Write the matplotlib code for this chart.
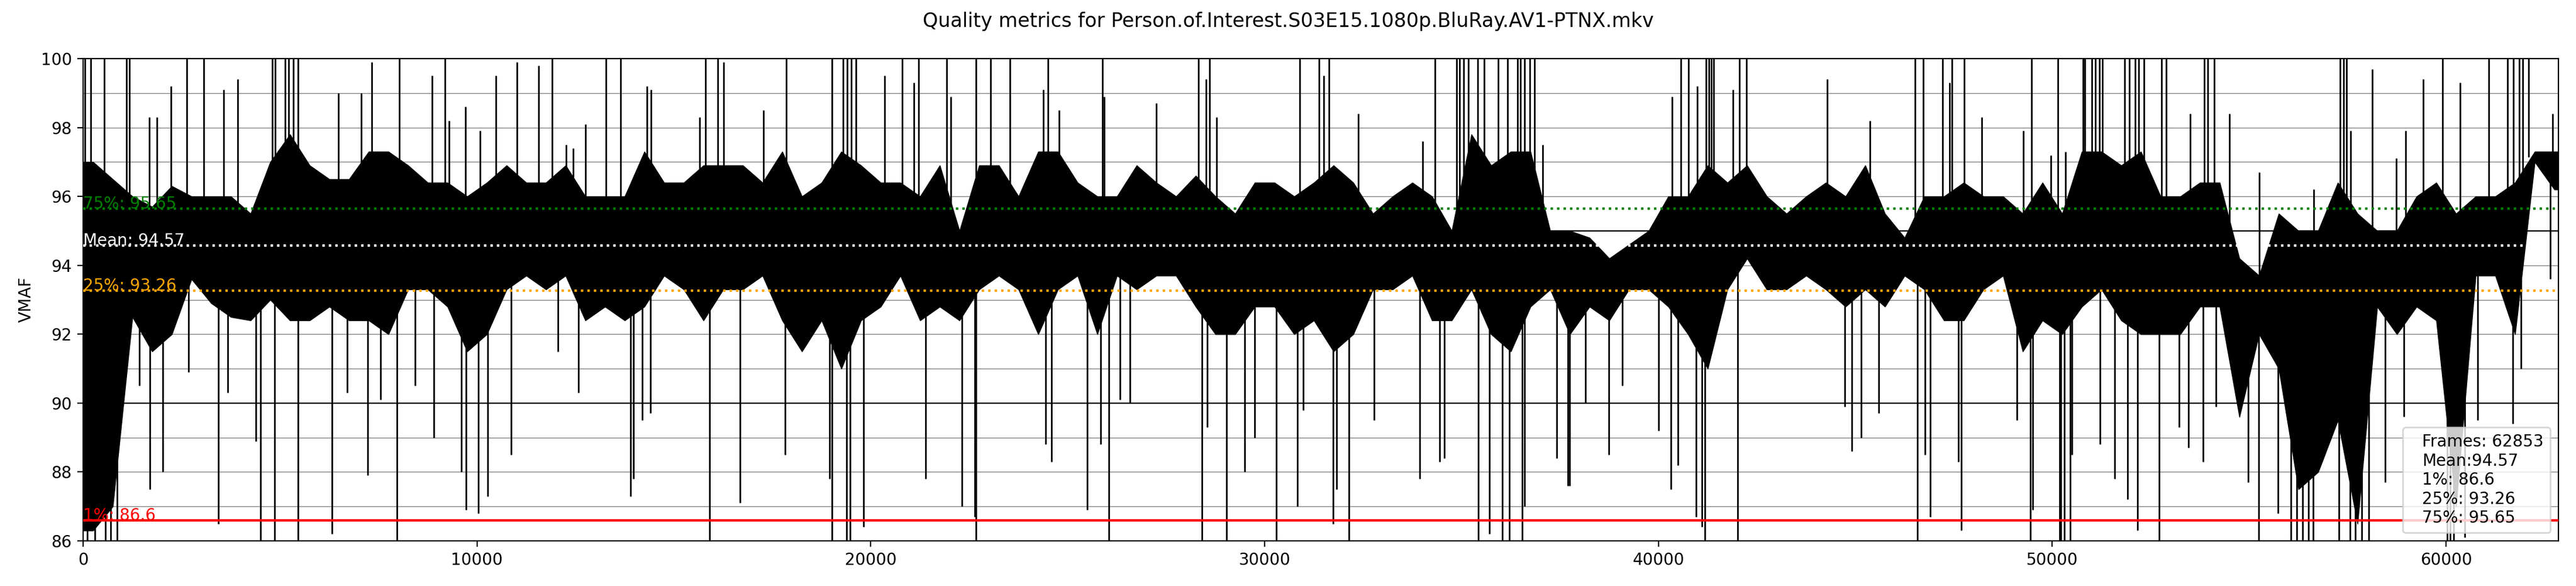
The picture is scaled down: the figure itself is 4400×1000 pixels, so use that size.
import numpy as np
import matplotlib
matplotlib.use("Agg")
import matplotlib.pyplot as plt

# VMAF per-frame values
title = "Quality metrics for Person.of.Interest.S03E15.1080p.BluRay.AV1-PTNX.mkv"
n_frames = 62853
block = 500  # frames per block for the dense core band

# dense core band of the trace, one value per 500-frame block
core_hi = [97.0, 96.5, 96.0, 95.7, 96.3, 96.0, 96.0, 96.0, 95.5, 97.0,
           97.8, 96.9, 96.5, 96.5, 97.3, 97.3, 96.9, 96.4, 96.4, 96.0,
           96.4, 96.9, 96.4, 96.4, 96.9, 96.0, 96.0, 96.0, 97.3, 96.4,
           96.4, 96.9, 96.9, 96.9, 96.4, 97.3, 96.0, 96.4, 97.3, 96.9,
           96.4, 96.4, 96.0, 96.9, 95.0, 96.9, 96.9, 96.0, 97.3, 97.3,
           96.4, 96.0, 96.0, 96.9, 96.4, 96.0, 96.6, 96.0, 95.5, 96.4,
           96.4, 96.0, 96.4, 96.9, 96.4, 95.5, 96.0, 96.4, 96.0, 95.0,
           97.8, 96.9, 97.3, 97.3, 95.0, 95.0, 94.8, 94.2, 94.6, 95.0,
           96.0, 96.0, 96.9, 96.4, 96.9, 96.0, 95.5, 96.0, 96.4, 96.0,
           96.9, 95.5, 94.8, 96.0, 96.0, 96.4, 96.0, 96.0, 95.5, 96.4,
           95.5, 97.3, 97.3, 96.9, 97.3, 96.0, 96.0, 96.4, 96.4, 94.2,
           93.7, 95.5, 95.0, 95.0, 96.4, 95.5, 95.0, 95.0, 96.0, 96.4,
           95.5, 96.0, 96.0, 96.4, 97.3, 97.3]
core_lo = [86.3, 87.0, 92.5, 91.5, 92.0, 93.6, 92.9, 92.5, 92.4, 93.0,
           92.4, 92.4, 92.8, 92.4, 92.4, 92.0, 93.3, 93.3, 92.8, 91.5,
           92.0, 93.3, 93.7, 93.3, 93.7, 92.4, 92.8, 92.4, 92.8, 93.7,
           93.3, 92.4, 93.3, 93.3, 93.7, 92.4, 91.5, 92.4, 91.0, 92.4,
           92.8, 93.7, 92.4, 92.8, 92.4, 93.3, 93.7, 93.3, 92.0, 93.3,
           93.7, 92.0, 93.7, 93.3, 93.7, 93.7, 92.8, 92.0, 92.0, 92.8,
           92.8, 92.0, 92.4, 91.5, 92.0, 93.3, 93.3, 93.7, 92.4, 92.4,
           93.3, 92.0, 91.5, 92.8, 93.3, 92.0, 92.8, 92.4, 93.3, 93.3,
           92.8, 92.0, 91.0, 93.3, 94.2, 93.3, 93.3, 93.7, 93.3, 92.8,
           93.3, 92.8, 93.7, 93.3, 92.4, 92.4, 93.3, 93.7, 91.5, 92.4,
           92.0, 92.8, 93.3, 92.4, 92.0, 92.0, 92.0, 92.8, 92.8, 89.6,
           92.0, 91.0, 87.5, 88.0, 89.5, 86.5, 92.8, 92.0, 92.8, 92.4,
           87.0, 93.7, 93.7, 92.0, 97.0, 96.2]

# single frames sticking out of the core band
spike_frame = [
    50, 195, 535, 1100, 1180, 2630, 3055, 4800, 4880, 5130, 5210, 5330, 5450,
    8030, 9180, 11900, 1680, 1865, 2225, 3570, 3920, 6480, 7060, 7330, 8860,
    9290, 9700, 10080, 10480, 11010, 11570, 12260, 12440,
    100, 300, 570, 700, 860, 1420, 1700, 2025, 2670, 3435, 3675, 4385, 4505,
    4860, 5450, 6320, 6700, 7220, 7545, 7970, 8430, 8900, 9600, 9720, 10040,
    10270, 10860, 12055, 12580,
    13281, 13644, 15795, 16117, 17850, 19018, 19300, 19400, 19500, 19622,
    20790, 21217, 21920, 22668, 23040, 23530, 24497, 12750, 14320, 14417,
    15650, 16262, 17270, 20347, 21097, 22030, 24376, 24786,
    13902, 13966, 14200, 14410, 15900, 16673, 17825, 18953, 19018, 19380,
    19480, 19808, 21395, 22305, 22643, 22668, 24440, 24593,
    25875, 28320, 28600, 30895, 31378, 31636, 34320, 34870, 34950, 35050,
    35165, 35407, 35568, 35930, 36172, 36414, 36500, 36600, 36736, 36857,
    25920, 27245, 28518, 28784, 31500, 32370, 34013, 37059,
    25497, 25835, 26045, 26330, 26585, 28400, 28542, 29034, 29485, 29750,
    30299, 30830, 30976, 31741, 31822, 32144, 32772, 33940, 34440, 34560,
    35431, 35713, 36027, 36213, 36535, 36600, 37421, 37703,
    40573, 40758, 41200, 41282, 41340, 41400, 42047, 42232, 46519, 46720,
    47220, 47445, 47767, 49476, 50145, 40339, 40983, 41886, 44287, 45367,
    47389, 48210, 49258, 49960,
    37737, 38140, 38744, 39082, 40008, 40315, 40500, 40960, 41100, 41177,
    42007, 44730, 44907, 45149, 45592, 46567, 46760, 46905, 47607, 47687,
    49097, 49436, 49500, 50185,
    50785, 50825, 51000, 51100, 51200, 51270, 51838, 51950, 52100, 52200,
    52325, 52770, 52890, 53865, 53950, 54108, 57310, 57400, 57470, 59903,
    61079, 61565, 61700, 61850, 61950, 62090, 50340, 53500, 54490, 55259,
    56637, 57577, 58120, 58728, 58972, 59417, 60350, 62700,
    50217, 50300, 50460, 50500, 51206, 51579, 51903, 52162, 52714, 53216,
    53460, 53825, 54148, 54975, 55243, 55729, 56053, 56200, 56350, 56500,
    56620, 57270, 57553, 57700, 57850, 58040, 58445, 58931, 60025, 60100,
    60187, 60471, 60795, 61687, 61906, 62645]
spike_val = [
    100, 100, 100, 100, 100, 100, 100, 100, 100, 100, 100, 100, 100,
    100, 100, 100, 98.3, 98.3, 99.2, 99.1, 99.4, 99.0, 99.0, 99.9, 99.5,
    98.2, 98.6, 97.9, 99.5, 99.9, 99.8, 97.5, 97.4,
    86, 86, 86, 86, 86, 90.5, 87.5, 88.0, 90.9, 86.5, 90.3, 88.9, 86,
    86, 86, 86.2, 90.3, 87.9, 90.1, 86, 90.5, 89.0, 88.0, 86.9, 86.8,
    87.3, 88.5, 91.5, 90.3,
    100, 100, 100, 100, 100, 100, 100, 100, 100, 100,
    100, 100, 100, 100, 100, 100, 100, 98.1, 99.2, 99.1,
    98.3, 99.9, 98.5, 99.5, 99.3, 98.9, 99.1, 98.5,
    87.3, 87.8, 89.5, 89.7, 86, 87.1, 88.5, 87.8, 86, 86,
    86, 86.4, 87.8, 87.0, 86.7, 86, 88.8, 88.3,
    100, 100, 100, 100, 100, 100, 100, 100, 100, 100,
    100, 100, 100, 100, 100, 100, 100, 100, 100, 100,
    98.9, 98.7, 99.4, 98.3, 99.5, 98.4, 97.6, 97.5,
    86.9, 88.8, 86, 90.1, 90.0, 86, 89.3, 86, 88.0, 89.0,
    86, 87.0, 89.8, 86.5, 87.5, 86, 89.5, 87.8, 88.3, 88.4,
    86, 86.2, 86, 86, 86, 87.0, 88.4, 87.6,
    100, 100, 100, 100, 100, 100, 100, 100, 100, 100,
    100, 100, 100, 100, 100, 98.9, 99.2, 99.1, 99.4, 98.2,
    99.3, 98.3, 97.9, 97.2,
    87.6, 90.0, 88.5, 90.5, 89.2, 87.5, 88.2, 86.7, 86.4, 86,
    86, 89.9, 88.6, 89.0, 89.7, 86, 88.5, 86.7, 88.3, 86.3,
    89.5, 86, 86.9, 86,
    100, 100, 100, 100, 100, 100, 100, 100, 100, 100,
    100, 100, 100, 100, 100, 100, 100, 100, 100, 100,
    100, 100, 100, 100, 100, 100, 97.3, 98.4, 98.4, 96.7,
    96.2, 97.9, 99.7, 97.1, 97.9, 99.4, 99.3, 98.4,
    86, 86, 86, 88.5, 88.8, 87.8, 87.2, 86.3, 86, 89.3,
    88.7, 88.3, 89.9, 87.7, 86, 86.8, 86, 86, 86, 86,
    86, 86, 86, 86, 86, 86, 87.7, 89.6, 86, 86,
    86, 86.1, 89.5, 89.4, 91.0, 93.6]

# summary stats shown on the chart
mean_vmaf = 94.57
p1 = 86.6
p25 = 93.26
p75 = 95.65

core_hi = np.array(core_hi)
core_lo = np.array(core_lo)
centers = np.arange(len(core_hi)) * block + block / 2
xs = np.concatenate([[0], centers, [n_frames]])
hi = np.concatenate([[core_hi[0]], core_hi, [core_hi[-1]]])
lo = np.concatenate([[core_lo[0]], core_lo, [core_lo[-1]]])

spike_frame = np.array(spike_frame)
spike_val = np.array(spike_val)
idx = np.minimum(spike_frame // block, len(core_hi) - 1)
base = (core_hi[idx] + core_lo[idx]) / 2

fig, ax = plt.subplots(figsize=(22, 5), dpi=200)
fig.subplots_adjust(left=0.0323, right=0.9932, bottom=0.077, top=0.9)

# grid: grey every 1, black at 90 and 95
for yv in range(87, 100):
    ax.axhline(yv, color='#808080', lw=0.5, zorder=0.5)
for yv in (90, 95):
    ax.axhline(yv, color='black', lw=0.8, zorder=0.6)

ax.fill_between(xs, lo, hi, color='black', lw=0.5, zorder=2)
ax.vlines(spike_frame, base, spike_val, color='black', lw=1.0, zorder=2)

ax.axhline(p1, color='red', lw=1.5, zorder=3)
ax.axhline(p25, color='orange', ls=':', lw=1.5, zorder=3)
ax.axhline(mean_vmaf, color='white', ls=':', lw=1.5, zorder=3)
ax.axhline(p75, color='green', ls=':', lw=1.5, zorder=3)
ax.text(0, p1, f"1%: {p1}", color='red', zorder=4)
ax.text(0, p25, f"25%: {p25}", color='orange', zorder=4)
ax.text(0, mean_vmaf, f"Mean: {mean_vmaf}", color='white', zorder=4)
ax.text(0, p75, f"75%: {p75}", color='green', zorder=4)

ax.set_xlim(0, n_frames)
ax.set_ylim(86, 100)
ax.set_yticks(np.arange(86, 101, 2))
ax.set_ylabel('VMAF')

stats = (f"Frames: {n_frames}\nMean:{mean_vmaf}\n1%: {p1}\n"
         f"25%: {p25}\n75%: {p75}")
ax.plot([], [], ' ', label=stats)
ax.legend(loc='lower right', handlelength=0)

fig.suptitle(title)
fig.savefig('out.png')
